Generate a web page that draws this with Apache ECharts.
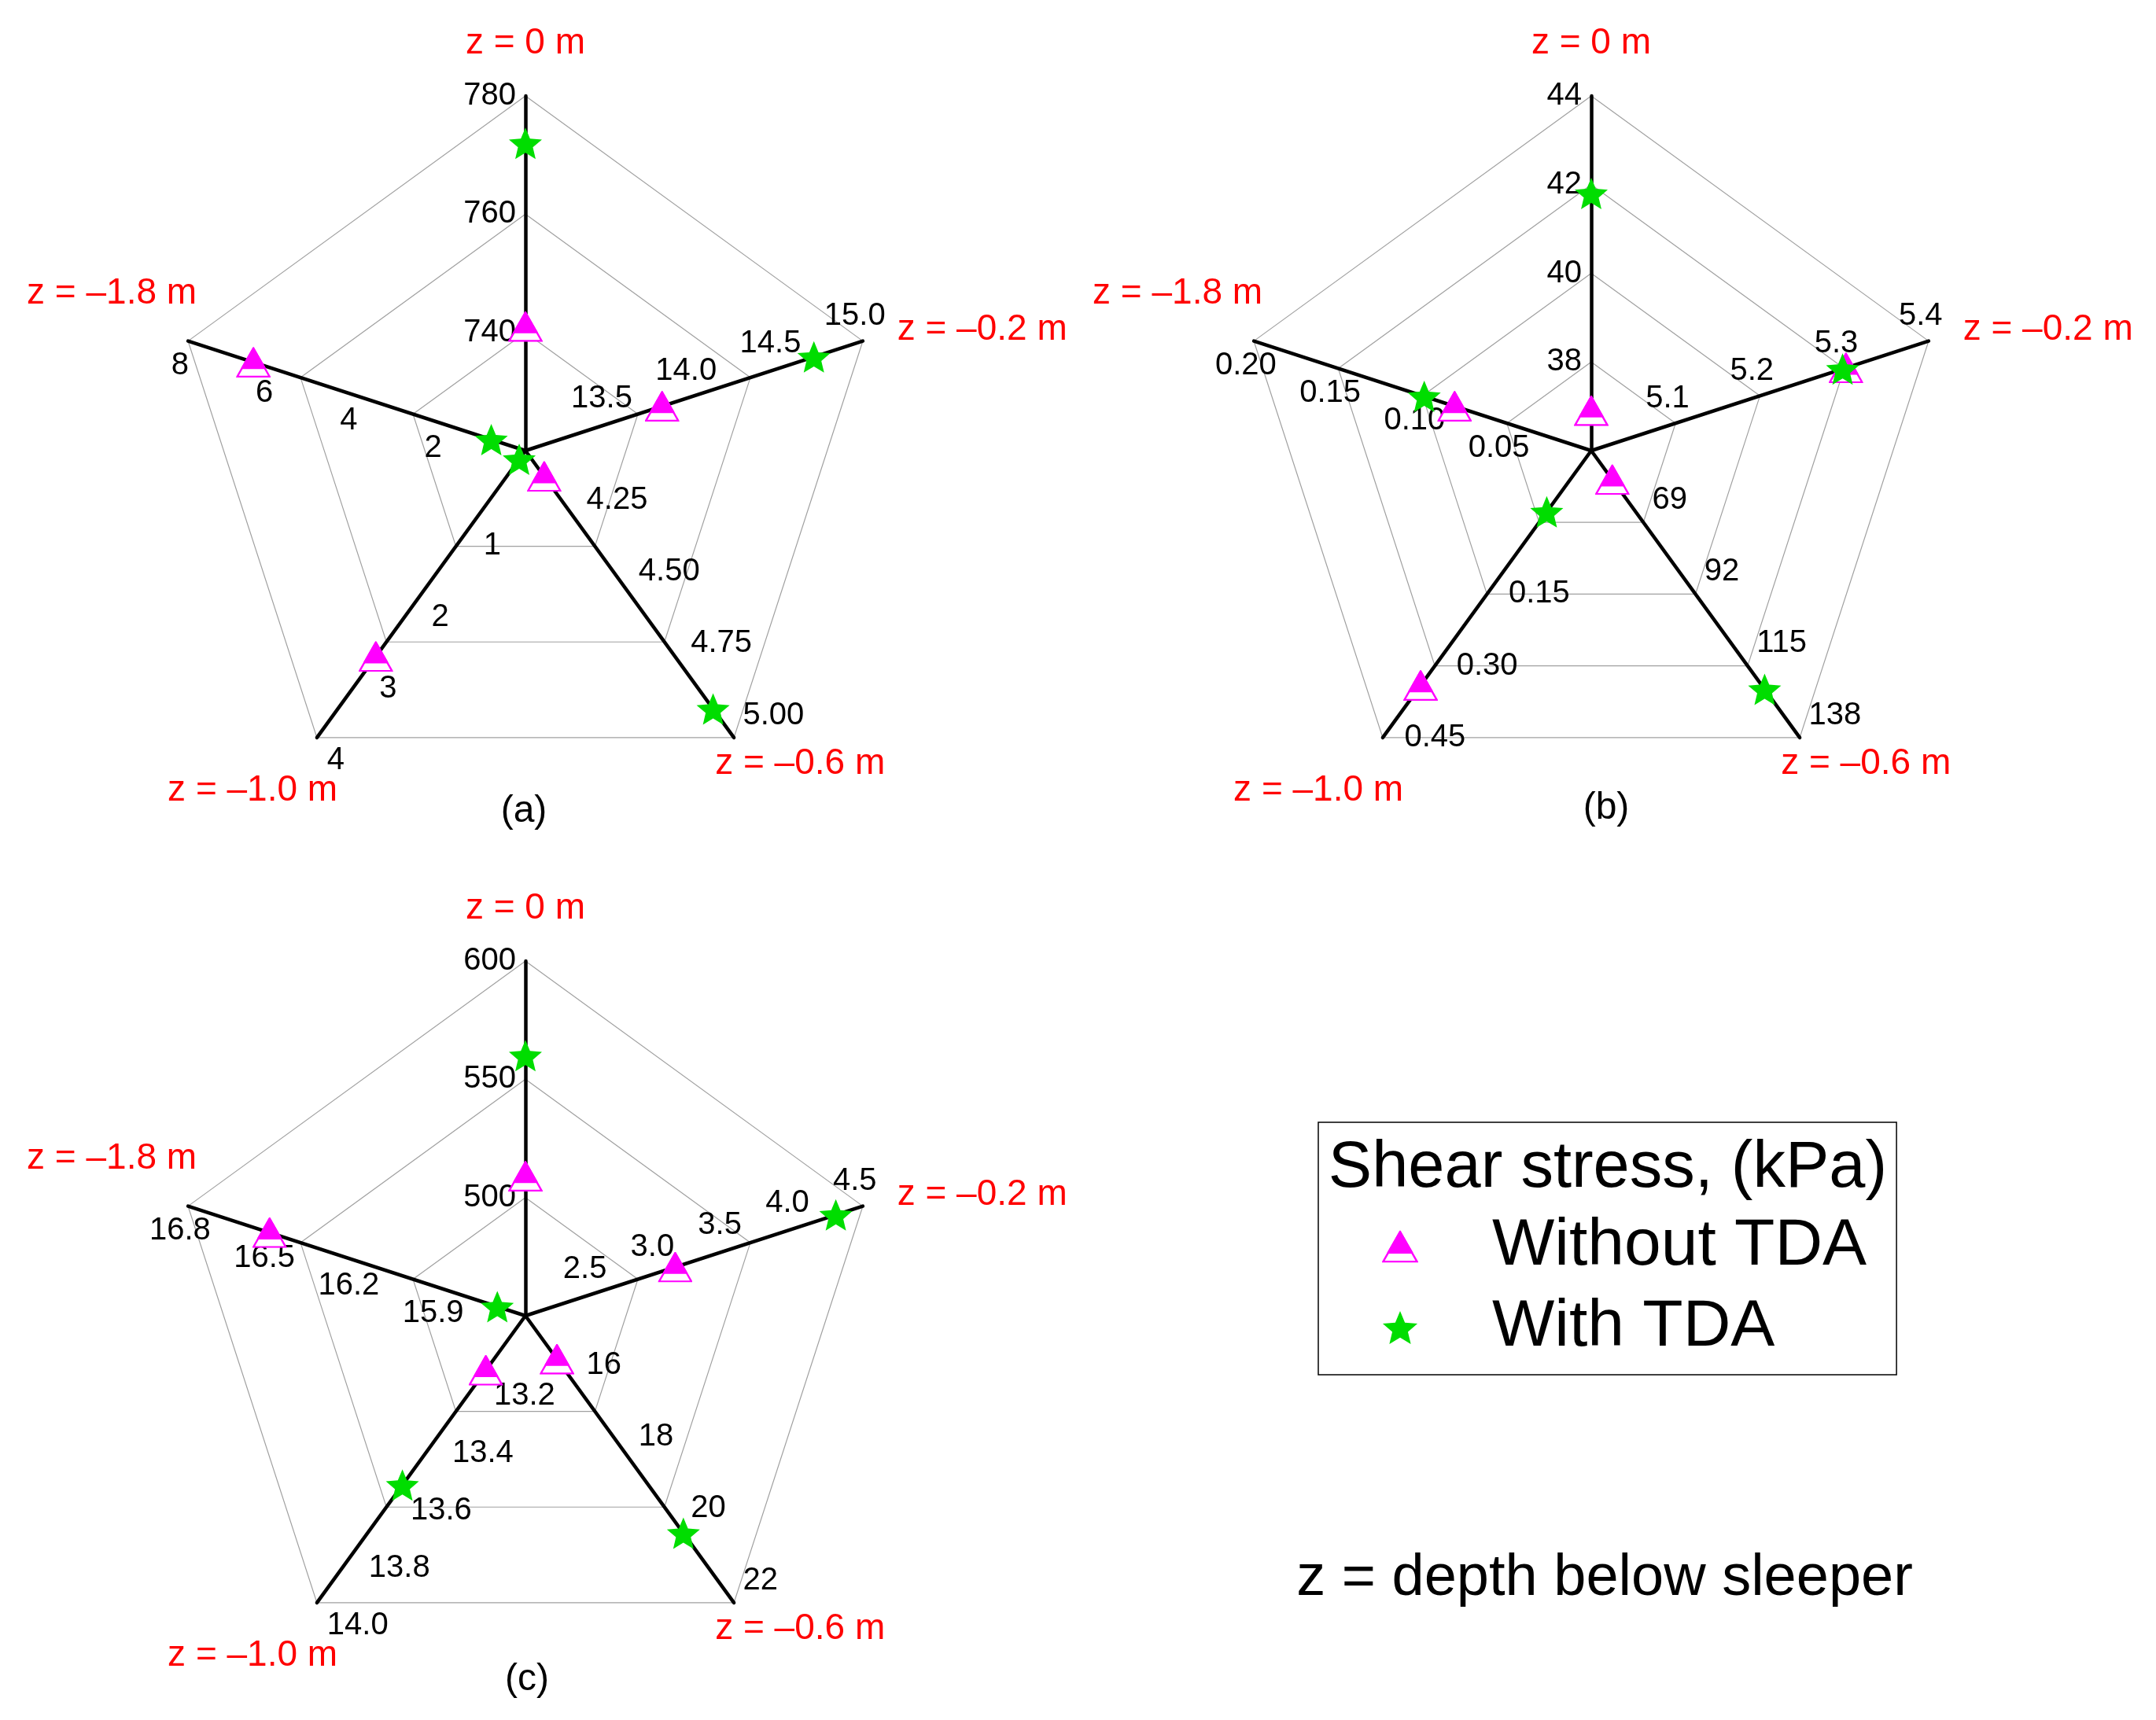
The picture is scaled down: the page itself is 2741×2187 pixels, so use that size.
<!DOCTYPE html>
<html>
<head>
<meta charset="utf-8">
<style>html,body{margin:0;padding:0;background:#fff;}#main{width:2741px;height:2187px;}</style>
<script src="https://cdn.jsdelivr.net/npm/echarts@6/dist/echarts.min.js"></script>
</head>
<body>
<div id="main"></div>
<script>
// ---------------- DATA ----------------
// axes listed clockwise starting at the top
const axisNames = ['z = 0 m', 'z = –0.2 m', 'z = –0.6 m', 'z = –1.0 m', 'z = –1.8 m'];
const seriesNames = ['Without TDA', 'With TDA'];
const panelLabels = ['(a)', '(b)', '(c)'];
const legendTitle = 'Shear stress, (kPa)';
const footNote = 'z = depth below sleeper';

// panel (a)
const aMin = [720, 13.0, 4.00, 0, 0];
const aMax = [780, 15.0, 5.00, 4, 8];
const aTicks = [['740','760','780'], ['13.5','14.0','14.5','15.0'], ['4.25','4.50','4.75','5.00'], ['1','2','3','4'], ['2','4','6','8']];
const aRings = 3;
const aWithout = [741, 13.81, 4.09, 2.87, 6.45];
const aWith = [772, 14.71, 4.90, 0.12, 0.81];

// panel (b)
const bMin = [36, 5.0, 46, -0.15, 0];
const bMax = [44, 5.4, 138, 0.45, 0.20];
const bTicks = [['38','40','42','44'], ['5.1','5.2','5.3','5.4'], ['69','92','115','138'], ['0.15','0.30','0.45'], ['0.05','0.10','0.15','0.20']];
const bRings = 4;
const bWithout = [36.9, 5.302, 55.3, 0.341, 0.081];
const bWith = [41.8, 5.298, 122.5, -0.022, 0.099];

// panel (c)
const cMin = [450, 2.0, 14, 13.0, 15.6];
const cMax = [600, 4.5, 22, 14.0, 16.8];
const cTicks = [['500','550','600'], ['2.5','3.0','3.5','4.0','4.5'], ['16','18','20','22'], ['13.2','13.4','13.6','13.8','14.0'], ['15.9','16.2','16.5','16.8']];
const cRings = 3;
const cWithout = [509, 3.11, 15.21, 13.19, 16.51];
const cWith = [560, 4.30, 20.06, 13.59, 15.70];

// ---------------- LAYOUT / STYLE ----------------
const FONT = 'Liberation Sans, Arial, Helvetica, sans-serif';
const CENTERS = [[668, 573], [2023, 573], [668, 1673]];
const RADIUS = 451;
const CCW = [0, 4, 3, 2, 1]; // radar draws indicators counter-clockwise
const TICK_STYLE = [
  {align: 'right', verticalAlign: 'middle', margin: 12},
  {align: 'center', verticalAlign: 'middle', margin: 33},
  {align: 'left', verticalAlign: 'bottom', margin: 14},
  {align: 'left', verticalAlign: 'top', margin: 16},
  {align: 'center', verticalAlign: 'middle', margin: 33}
];
const TICK_STYLE_B = TICK_STYLE.slice();
TICK_STYLE_B[3] = {align: 'left', verticalAlign: 'bottom', margin: 34};
const NAME_STYLE = [
  {gap: 44, align: 'center', verticalAlign: 'bottom', padding: [0, 0, 0, 0]},
  {gap: 46, align: 'left', verticalAlign: 'middle', padding: [22, 0, 0, 0]},
  {gap: 41, align: 'center', verticalAlign: 'middle', padding: [6, 0, 0, 120]},
  {gap: 83, align: 'center', verticalAlign: 'middle', padding: [6, 66, 0, 0]},
  {gap: 102, align: 'center', verticalAlign: 'bottom', padding: [0, 0, 6, 0]}
];
const MAGENTA = '#ff00ff';
const GREEN = '#00dd00';

const triSvg = "<svg xmlns='http://www.w3.org/2000/svg' width='176' height='156' viewBox='0 0 44 39'>" +
  "<polygon points='22,1.6 42.6,37.8 1.4,37.8' fill='#ffffff' stroke='#ff00ff' stroke-width='2.4'/>" +
  "<polygon points='22,1.6 36.4,26.9 7.6,26.9' fill='#ff00ff' stroke='#ff00ff' stroke-width='2.4' stroke-linejoin='round'/></svg>";
const triIcon = 'image://data:image/svg+xml;charset=utf-8,' + encodeURIComponent(triSvg);
const starIcon = 'path://M50,0L63.2,31.8L97.55,34.55L71.4,57L79.39,90.45L50,72.5L20.61,90.45L28.6,57L2.45,34.55L36.8,31.8Z';

const radars = [];
const series = [];

function tickFormatter(ticks, min, max) {
  const tol = (max - min) * 1e-4;
  return function (v) {
    const t = ticks.find(s => Math.abs(parseFloat(s) - v) < tol);
    return t || '';
  };
}

function buildPanel(k, mins, maxs, ticks, rings, without, withT, tickStyles) {
  const base = radars.length;
  const center = CENTERS[k];
  const ind = i => ({name: axisNames[i], min: mins[i], max: maxs[i]});
  radars.push({
    center: center, radius: RADIUS, startAngle: 90, splitNumber: rings, shape: 'polygon',
    indicator: CCW.map(i => Object.assign(ind(i), {
      nameGap: NAME_STYLE[i].gap,
      nameTextStyle: {align: NAME_STYLE[i].align, verticalAlign: NAME_STYLE[i].verticalAlign, padding: NAME_STYLE[i].padding}
    })),
    axisName: {show: true, color: '#ff0000', fontSize: 46, fontFamily: FONT},
    axisNameGap: 44,
    axisLine: {show: true, lineStyle: {color: '#000000', width: 4.5}},
    splitLine: {show: true, lineStyle: {color: '#a0a0a0', width: 1.2}},
    splitArea: {show: false},
    axisTick: {show: false},
    axisLabel: {show: false},
    silent: true
  });
  const splits = ticks.map((t, i) => Math.round((maxs[i] - mins[i]) / (parseFloat(t[1]) - parseFloat(t[0]))));
  Array.from(new Set(splits)).forEach(S => {
    radars.push({
      center: center, radius: RADIUS, startAngle: 90, splitNumber: S, shape: 'polygon',
      indicator: CCW.map(i => Object.assign(ind(i), {
        axisLabel: Object.assign({show: splits[i] === S, formatter: tickFormatter(ticks[i], mins[i], maxs[i])}, tickStyles[i])
      })),
      axisName: {show: false},
      axisLine: {show: false},
      splitLine: {show: false},
      splitArea: {show: false},
      axisTick: {show: false},
      axisLabel: {show: false, color: '#000000', fontSize: 40, fontFamily: FONT},
      silent: true
    });
  });
  series.push({
    type: 'radar', name: seriesNames[0], radarIndex: base, silent: true, z: 3,
    symbol: triIcon, symbolSize: [44, 39],
    lineStyle: {width: 0, opacity: 0}, itemStyle: {color: MAGENTA},
    emphasis: {disabled: true},
    data: [{name: seriesNames[0], value: CCW.map(i => without[i])}]
  });
  series.push({
    type: 'radar', name: seriesNames[1], radarIndex: base, silent: true, z: 4,
    symbol: starIcon, symbolSize: [42, 40],
    lineStyle: {width: 0, opacity: 0}, itemStyle: {color: GREEN, borderWidth: 0},
    emphasis: {disabled: true},
    data: [{name: seriesNames[1], value: CCW.map(i => withT[i])}]
  });
}

buildPanel(0, aMin, aMax, aTicks, aRings, aWithout, aWith, TICK_STYLE);
buildPanel(1, bMin, bMax, bTicks, bRings, bWithout, bWith, TICK_STYLE_B);
buildPanel(2, cMin, cMax, cTicks, cRings, cWithout, cWith, TICK_STYLE);

const titleText = (text, left, top, size) => ({
  text: text, left: left, top: top, textAlign: 'center', padding: 0,
  textStyle: {fontSize: size, fontWeight: 'normal', color: '#000000', fontFamily: FONT}
});

const option = {
  backgroundColor: '#ffffff',
  animation: false,
  title: [
    titleText(panelLabels[0], 666, 1008, 48),
    titleText(panelLabels[1], 2042, 1004, 48),
    titleText(panelLabels[2], 670, 2112, 48),
    titleText(legendTitle, 2044, 1445, 83),
    titleText(footNote, 2040, 1971, 74)
  ],
  legend: {
    data: [
      {name: seriesNames[0], icon: triIcon, itemStyle: {color: MAGENTA}},
      {name: seriesNames[1], icon: starIcon, itemStyle: {color: GREEN}}
    ],
    orient: 'vertical', left: 1676, top: 1427,
    padding: [116, 38, 18, 81],
    itemWidth: 46, itemHeight: 42, itemGap: 19,
    borderColor: '#000000', borderWidth: 1.5,
    selectedMode: false,
    formatter: n => '{t|' + n + '}',
    textStyle: {
      color: '#000000', fontSize: 84, fontFamily: FONT,
      rich: {t: {color: '#000000', fontSize: 84, fontFamily: FONT, padding: [0, 0, 0, 89]}}
    }
  },
  radar: radars,
  series: series
};

const chart = echarts.init(document.getElementById('main'), null, {renderer: 'canvas'});
chart.setOption(option);
</script>
</body>
</html>
